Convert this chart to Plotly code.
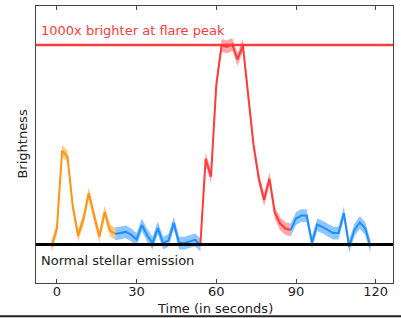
import plotly.graph_objects as go

# ---- data (time in seconds, brightness in arbitrary units; 0 = normal, 100 = flare peak) ----
orange_t = [-2, 0, 2, 4, 6, 8, 10, 12, 14, 16, 18, 20, 22]
orange_y = [-1, 8, 47, 44, 19, 4.5, 12.7, 25.7, 14.5, 4, 16.3, 7, 5.3]

blue1_t = [22, 24, 26, 28, 30, 32, 34, 36, 38, 40, 42, 44, 46, 48, 50, 52, 54]
blue1_y = [5.3, 5.7, 6.3, 4.8, 2.5, 9.8, 4.5, 0.7, 8.2, 0.7, 2, 10.7, 0.7, 0.7, 1.5, 2.3, -0.2]

red_t = [54, 56, 58, 60, 62, 64, 66, 68, 70, 72, 74, 76, 78, 80, 82, 84, 86, 88]
red_y = [-0.2, 43, 34, 80, 99.8, 99, 100.3, 92.7, 99.8, 75, 50, 33, 22.3, 33, 16, 10.5, 8, 7.3]

blue2_t = [88, 90, 92, 94, 96, 98, 100, 102, 104, 106, 108, 110, 112, 114, 116, 118]
blue2_y = [7.3, 13, 14.5, 14.5, 1, 10, 8.7, 7.3, 5.7, 5.7, 15.7, -1, 7.3, 11, 8.2, -1]

err_orange = 3.0
err_blue = 3.2
err_red = 3.2

baseline = 0
peak = 100

x_ticks = [0, 30, 60, 90, 120]

ORANGE = "#FF9514"
BLUE = "#1E8FFF"
RED = "#FF3B3B"


def rgba(hexc, a):
    h = hexc.lstrip("#")
    r, g, b = int(h[0:2], 16), int(h[2:4], 16), int(h[4:6], 16)
    return f"rgba({r},{g},{b},{a})"


fig = go.Figure()


def add_series(t, y, err, color, band_alpha):
    lo = [v - err for v in y]
    hi = [v + err for v in y]
    fig.add_trace(go.Scatter(x=t, y=lo, mode="lines", line=dict(width=0),
                             hoverinfo="skip", showlegend=False))
    fig.add_trace(go.Scatter(x=t, y=hi, mode="lines", line=dict(width=0),
                             fill="tonexty", fillcolor=rgba(color, band_alpha),
                             hoverinfo="skip", showlegend=False))
    fig.add_trace(go.Scatter(x=t, y=y, mode="lines", line=dict(color=color, width=2),
                             showlegend=False))


add_series(orange_t, orange_y, err_orange, ORANGE, 0.5)
add_series(blue1_t, blue1_y, err_blue, BLUE, 0.5)
add_series(red_t, red_y, err_red, RED, 0.45)
add_series(blue2_t, blue2_y, err_blue, BLUE, 0.5)

# reference lines
fig.add_shape(type="line", xref="paper", x0=0, x1=1, yref="y", y0=baseline, y1=baseline,
              line=dict(color="black", width=3))
fig.add_shape(type="line", xref="paper", x0=0, x1=1, yref="y", y0=peak, y1=peak,
              line=dict(color=RED, width=2.5))
# bottom rule of figure
fig.add_shape(type="line", xref="paper", yref="paper", x0=-0.11, x1=1.03, y0=-0.12, y1=-0.12,
              line=dict(color="#222222", width=2))

FONT = "DejaVu Sans"

fig.add_annotation(text="1000x brighter at flare peak", xref="paper", x=0.008, xanchor="left",
                   yref="y", y=107, yanchor="middle", showarrow=False,
                   font=dict(family=FONT, size=13, color=RED))
fig.add_annotation(text="Normal stellar emission", xref="paper", x=0.008, xanchor="left",
                   yref="y", y=-8, yanchor="middle", showarrow=False,
                   font=dict(family=FONT, size=13, color="#222222"))
fig.add_annotation(text="Brightness", xref="paper", x=-0.039, xanchor="center",
                   yref="paper", y=0.5, yanchor="middle", textangle=-90, showarrow=False,
                   font=dict(family=FONT, size=13, color="#222222"))
fig.add_annotation(text="Time (in seconds)", xref="paper", x=0.5, xanchor="center",
                   yref="paper", y=-0.091, yanchor="middle", showarrow=False,
                   font=dict(family=FONT, size=13, color="#222222"))

fig.update_layout(
    width=401, height=318, autosize=False,
    margin=dict(l=36, r=8, t=6, b=35),
    paper_bgcolor="white", plot_bgcolor="white",
    font=dict(family=FONT, size=13, color="#222222"),
    showlegend=False,
    xaxis=dict(range=[-7.85, 126.5], tickvals=x_ticks, ticks="inside", ticklen=4,
               tickcolor="#444444", showline=True, linecolor="#444444", linewidth=1,
               mirror="ticks", showgrid=False, zeroline=False, ticklabelstandoff=-4),
    yaxis=dict(range=[-19.3, 119.5], showticklabels=False, ticks="", showline=True,
               linecolor="#444444", linewidth=1, mirror=True, showgrid=False, zeroline=False),
)

fig.write_html(
    "out.html",
    config={"displayModeBar": False},
    post_script="document.body.style.margin='0';document.body.style.overflow='hidden';"
                "document.documentElement.style.overflow='hidden';",
)
